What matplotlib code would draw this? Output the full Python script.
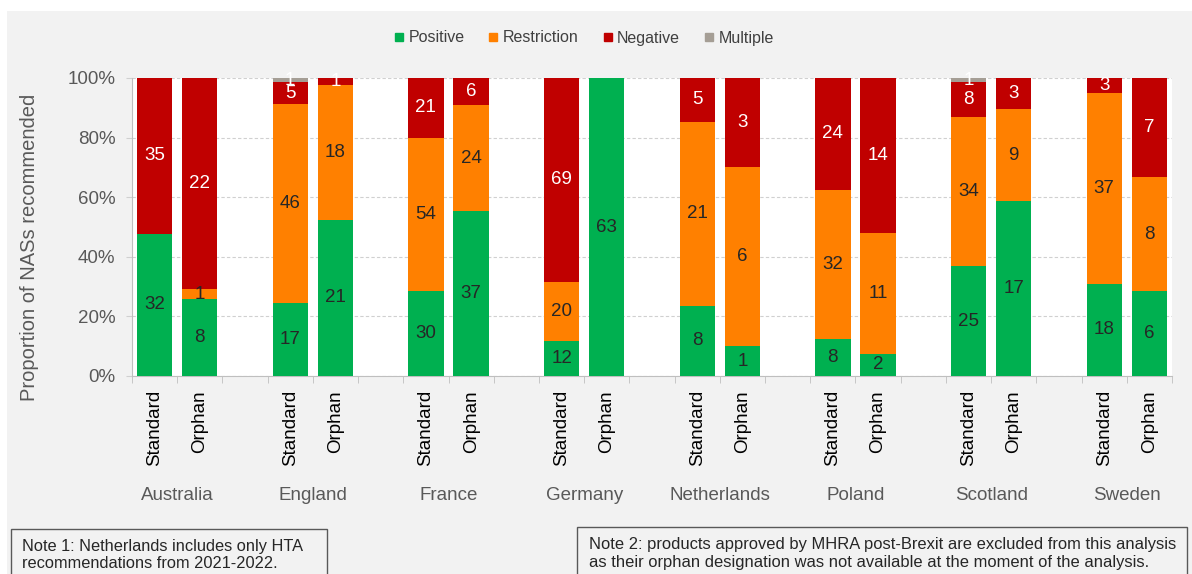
# %%
# Stacked proportion of NAS recommendations per country, standard vs orphan
import numpy as np
from matplotlib import pyplot as plt
import matplotlib.transforms as mtransforms
from matplotlib.lines import Line2D
from matplotlib.patches import Rectangle

plt.rcParams['font.family'] = ['Liberation Sans', 'DejaVu Sans']

# %%
countries = ["Australia", "England", "France", "Germany",
             "Netherlands", "Poland", "Scotland", "Sweden"]
kinds = ["Standard", "Orphan"]

# one entry per bar: country1-standard, country1-orphan, country2-standard, ...
positive = [32, 8, 17, 21, 30, 37, 12, 63, 8, 1, 8, 2, 25, 17, 18, 6]
restriction = [0, 1, 46, 18, 54, 24, 20, 0, 21, 6, 32, 11, 34, 9, 37, 8]
negative = [35, 22, 5, 1, 21, 6, 69, 0, 5, 3, 24, 14, 8, 3, 3, 7]
multiple = [0, 0, 1, 0, 0, 0, 0, 0, 0, 0, 0, 0, 1, 0, 0, 0]

series = [("Positive", positive, "#00b050", "#262626"),
          ("Restriction", restriction, "#ff8000", "#262626"),
          ("Negative", negative, "#c00000", "white"),
          ("Multiple", multiple, "#a59e95", "white")]

# %%
W, H = 1192, 574
fig = plt.figure(figsize=(W / 100, H / 100), dpi=100)
fig.patch.set_facecolor("white")
fig.patches.append(Rectangle((7 / W, 0), 1, 1 - 11 / H, transform=fig.transFigure,
                             facecolor="#f2f2f2", edgecolor="none", zorder=-10))

ax = fig.add_axes([132 / W, 1 - 376 / H, (1172 - 132) / W, (376 - 78) / H])
ax.set_facecolor("white")

totals = np.array(positive) + np.array(restriction) + np.array(negative) + np.array(multiple)
pos = np.array([(i // 2) * 3 + i % 2 for i in range(len(totals))])

bottom = np.zeros(len(totals))
for name, vals, color, tcolor in series:
    vals = np.array(vals)
    h = vals / totals * 100
    ax.bar(pos, h, bottom=bottom, width=0.78, color=color, zorder=3)
    for x, b, hh, v in zip(pos, bottom, h, vals):
        if v > 0:
            ax.text(x, b + hh / 2, str(v), ha="center", va="center",
                    fontsize=13.5, color=tcolor, zorder=4)
    bottom += h

ax.set_ylim(0, 100)
ax.set_xlim(-0.5, 22.5)
ax.set_yticks(range(0, 101, 20))
ax.set_yticklabels(["{}%".format(v) for v in range(0, 101, 20)], fontsize=13.5, color="#595959")
ax.yaxis.grid(True, linestyle=(0, (3, 2)), color="#d0d0d0", linewidth=0.8, zorder=0)
ax.tick_params(axis="y", length=4, color="#d0d0d0", pad=8)

ax.set_xticks(pos)
ax.set_xticklabels(kinds * len(countries), rotation=90, fontsize=13.5, color="black")
ax.tick_params(axis="x", which="major", length=0, pad=10)
ax.set_xticks(np.arange(-0.5, 23, 1), minor=True)
ax.tick_params(axis="x", which="minor", length=5, color="#bfbfbf")

for s in ["top", "right"]:
    ax.spines[s].set_visible(False)
for s in ["left", "bottom"]:
    ax.spines[s].set_color("#bfbfbf")

ax.set_ylabel("Proportion of NASs recommended", fontsize=14.5, color="#595959")
ax.yaxis.set_label_coords(-0.089, 0.43)

trans = mtransforms.blended_transform_factory(ax.transData, fig.transFigure)
for g, c in enumerate(countries):
    ax.text(g * 3 + 0.5, 1 - 496 / H, c, transform=trans, ha="center", va="center",
            fontsize=13.5, color="#595959")

# %%
handles = [Line2D([], [], marker="s", linestyle="none", markersize=6,
                  markerfacecolor=col, markeredgecolor=col) for _, _, col, _ in series]
fig.legend(handles, [s[0] for s in series], loc="center", ncol=4,
           bbox_to_anchor=(584 / W, 1 - 38 / H), frameon=False, fontsize=11.5,
           handlelength=0.6, handletextpad=0.3, columnspacing=1.5, labelcolor="#404040")

# %%
fig.patches.append(Rectangle((11 / W, -0.1), (327 - 11) / W, 0.1 + (574 - 529) / H,
                             transform=fig.transFigure, facecolor="none",
                             edgecolor="#595959", linewidth=1))
fig.patches.append(Rectangle((577 / W, -0.1), (1187 - 577) / W, 0.1 + (574 - 527) / H,
                             transform=fig.transFigure, facecolor="none",
                             edgecolor="#595959", linewidth=1))
fig.text(22 / W, 1 - 546 / H, "Note 1: Netherlands includes only HTA", fontsize=11.8,
         va="center", color="#262626")
fig.text(22 / W, 1 - 564 / H, "recommendations from 2021-2022.", fontsize=11.8,
         va="center", color="#262626")
fig.text(589 / W, 1 - 544 / H,
         "Note 2: products approved by MHRA post-Brexit are excluded from this analysis",
         fontsize=11.9, va="center", color="#262626")
fig.text(589 / W, 1 - 562 / H,
         "as their orphan designation was not available at the moment of the analysis.",
         fontsize=11.9, va="center", color="#262626")

fig.savefig("out.png", dpi=100, facecolor=fig.get_facecolor())
